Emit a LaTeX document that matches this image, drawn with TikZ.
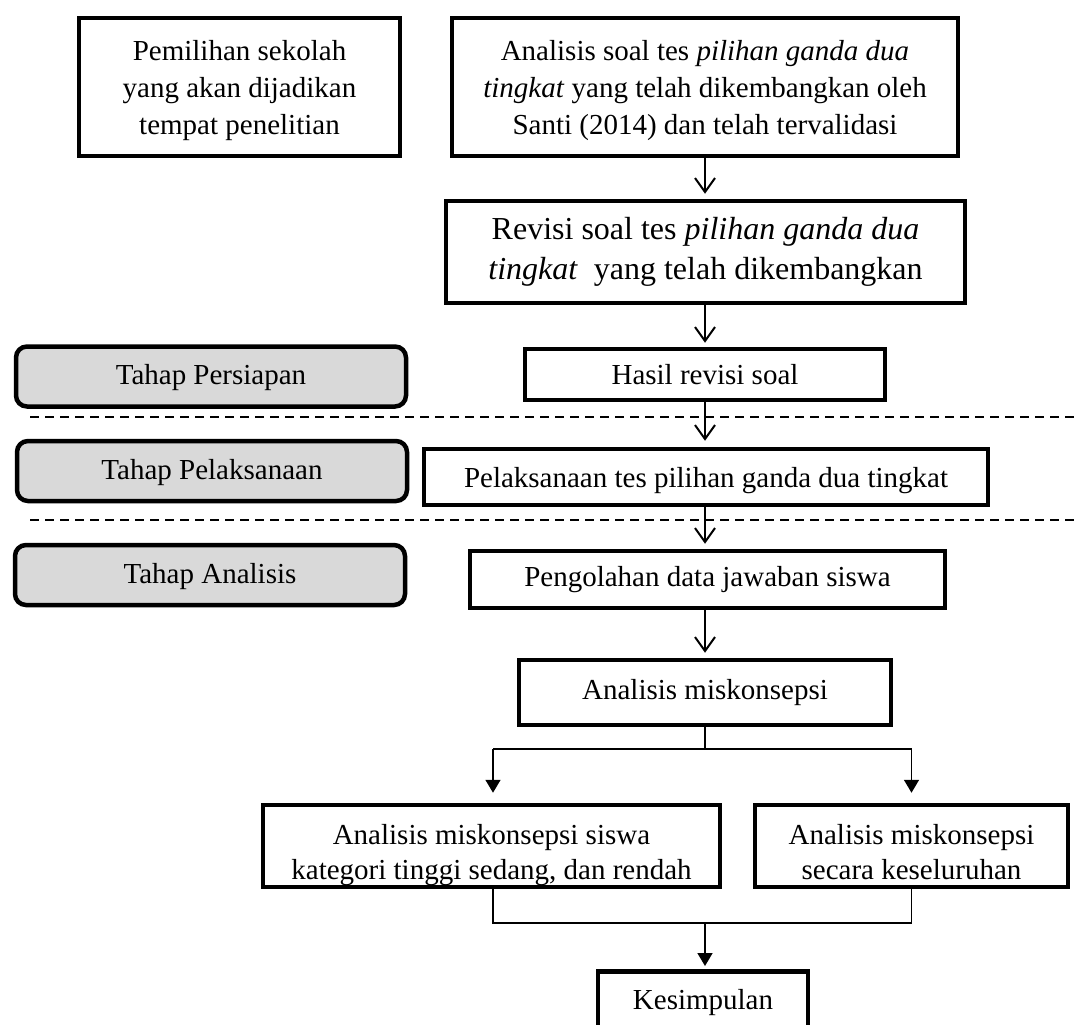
\documentclass[tikz,border=0pt]{standalone}
\usepackage{fontspec}
\setmainfont{Liberation Serif}
\usetikzlibrary{arrows.meta}
\newcommand{\twolines}[2]{\raisebox{-9pt}[\height][\depth]{\begin{tabular}{@{}c@{}}#1\\#2\end{tabular}}}
\begin{document}
\begin{tikzpicture}[x=1pt,y=-1pt,
  fbox/.style={draw=black, line width=4.5pt, fill=white, align=center, inner sep=0pt, font=\fontsize{29}{37}\selectfont},
  phase/.style={draw=black, line width=4.5pt, fill=black!15, rounded corners=11pt, inner sep=0pt, text height=21pt, text depth=5pt, minimum width=390pt, minimum height=60pt, font=\fontsize{29}{37}\selectfont},
  varr/.style={line width=2pt, -{Straight Barb[length=14pt,width=20pt,line width=2pt]}},
  tarr/.style={line width=1.6pt, -{Triangle[length=13pt,width=15pt]}},
  tline/.style={line width=1.6pt},
  sepline/.style={line width=1.5pt, dash pattern=on 9pt off 6pt}]
\useasboundingbox (0,0) rectangle (1076,1025);
\clip (0,0) rectangle (1076,1025);
\fill[white] (0,0) rectangle (1076,1025);

% separators
\coordinate (d1a) at (30,417); \coordinate (d1b) at (1076,417);
\coordinate (d2a) at (30,520); \coordinate (d2b) at (1076,520);
\draw[sepline] (d1a) -- (d1b);
\draw[sepline] (d2a) -- (d2b);

% phase labels
\node[phase] (p1) at (211,376.5) {Tahap Persiapan};
\node[phase] (p2) at (212,471) {Tahap Pelaksanaan};
\node[phase] (p3) at (210,575) {Tahap Analisis};

% main boxes
\node[fbox, minimum width=321pt, minimum height=138pt, text depth=0pt] (b1) at (239.5,87) {Pemilihan sekolah\\yang akan dijadikan\\tempat penelitian};
\node[fbox, minimum width=506pt, minimum height=138pt, text depth=0pt] (b2) at (705,87) {Analisis soal tes \textit{pilihan ganda dua}\\\textit{tingkat} yang telah dikembangkan oleh\\Santi (2014) dan telah tervalidasi};
\node[fbox, minimum width=519pt, minimum height=102pt, font=\fontsize{32}{40}\selectfont] (b3) at (705.5,252) {Revisi soal tes \textit{pilihan ganda dua}\\\textit{tingkat}\ \ yang telah dikembangkan};
\node[fbox, minimum width=360pt, minimum height=51pt, text depth=0pt] (b4) at (705,374.5) {Hasil revisi soal};
\node[fbox, minimum width=564pt, minimum height=56pt, text depth=0pt] (b5) at (706,477) {Pelaksanaan tes pilihan ganda dua tingkat};
\node[fbox, minimum width=475pt, minimum height=57pt] (b6) at (707.5,579.5) {Pengolahan data jawaban siswa};
\node[fbox, minimum width=372pt, minimum height=65pt] (b7) at (705,692.5) {Analisis miskonsepsi};
\node[fbox, minimum width=457pt, minimum height=82pt, font=\fontsize{29}{35}\selectfont] (b8) at (491.5,846) {\twolines{Analisis miskonsepsi siswa}{kategori tinggi sedang, dan rendah}};
\node[fbox, minimum width=313pt, minimum height=82pt, font=\fontsize{29}{35}\selectfont] (b9) at (911.5,846) {\twolines{Analisis miskonsepsi}{secara keseluruhan}};
\node[fbox, minimum width=210pt, anchor=north, inner ysep=10pt, text height=28pt, text depth=60pt] (kes) at (703,969) {Kesimpulan};

% upper arrows
\draw[varr, shorten >=5pt] (b2.south) -- (b2.south |- b3.north);
\draw[varr, shorten >=4pt] (b3.south -| b4.north) -- (b4.north);
\draw[varr, shorten >=6pt] (b4.south) -- (b4.south |- b5.north);
\draw[varr, shorten >=5pt] (b5.south -| b4.south) -- (b4.south |- b6.north);
\draw[varr, shorten >=5pt] (b6.south -| b7.north) -- (b7.north);

% branching
\coordinate (j1) at (705,749);
\coordinate (bl) at (493,749);
\coordinate (br) at (911.5,749);
\draw[tline] (b7.south) -- (j1);
\draw[tline] (bl) -- (br);
\draw[tarr, shorten >=10pt] (bl) -- (bl |- b8.north);
\draw[tarr, shorten >=10pt] (br) -- (br |- b9.north);

% merging
\coordinate (ll) at (493,923);
\coordinate (lr) at (911.5,923);
\coordinate (j2) at (705,923);
\draw[tline] (b8.south -| ll) -- (ll) -- (lr) -- (b9.south -| lr);
\draw[tarr, shorten >=3pt] (j2) -- (j2 |- kes.north);
\end{tikzpicture}
\end{document}
